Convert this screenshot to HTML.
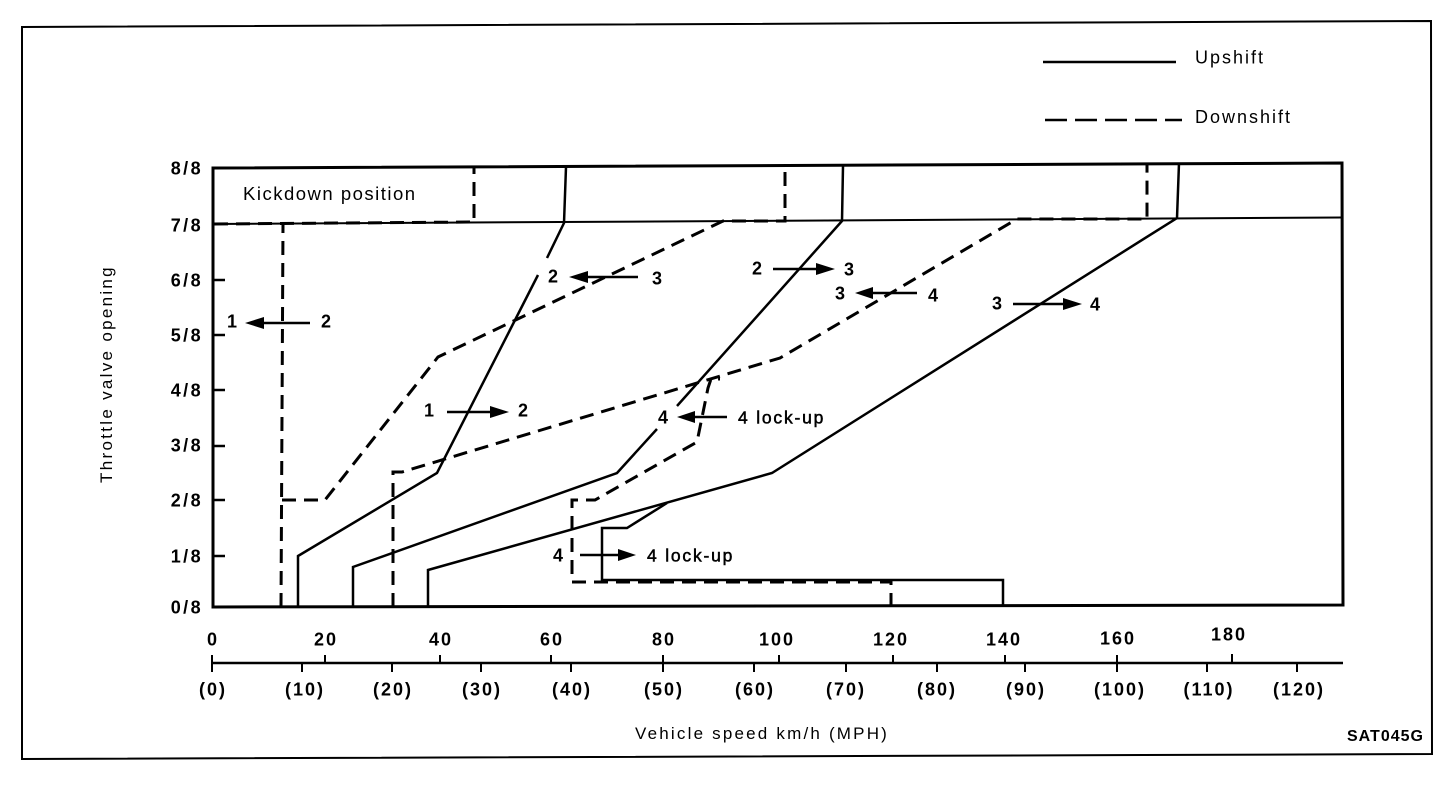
<!DOCTYPE html>
<html><head><meta charset="utf-8"><style>
html,body{margin:0;padding:0;background:#fff;}
svg{display:block}
text{font-family:"Liberation Sans",Arial,sans-serif;fill:#000}
.ax{font-weight:bold;font-size:18px;letter-spacing:2px}
.yl{font-weight:bold;font-size:18px;letter-spacing:2.4px}
.lb{font-size:18px;letter-spacing:2px}
.dg{font-size:18px;font-weight:bold}
.s{fill:none;stroke:#000;stroke-width:2.5;stroke-linejoin:miter}
.d{fill:none;stroke:#000;stroke-width:3;stroke-dasharray:14 8}
</style></head><body>
<svg width="1456" height="796" viewBox="0 0 1456 796" xmlns="http://www.w3.org/2000/svg">
<rect width="1456" height="796" fill="#fff"/>
<!-- outer frame -->
<polygon points="22,27 1431,21 1432,754 22,759" fill="none" stroke="#000" stroke-width="2"/>

<!-- legend -->
<line x1="1043" y1="62" x2="1176" y2="62" stroke="#000" stroke-width="2.5"/>
<text x="1195" y="63.5" class="lb">Upshift</text>
<line x1="1045" y1="120" x2="1182" y2="120" stroke="#000" stroke-width="2.5" stroke-dasharray="22 8"/>
<text x="1195" y="123" class="lb">Downshift</text>

<!-- plot box -->
<polygon points="213,168 1342,163 1343,605 213,607" fill="none" stroke="#000" stroke-width="3"/>
<line x1="213" y1="224" x2="1342" y2="217.5" stroke="#000" stroke-width="2"/>

<!-- left ticks -->
<g stroke="#000" stroke-width="2.5">
<line x1="213" y1="280" x2="225" y2="280"/>
<line x1="213" y1="335" x2="225" y2="335"/>
<line x1="213" y1="390" x2="225" y2="390"/>
<line x1="213" y1="446" x2="225" y2="446"/>
<line x1="213" y1="500" x2="225" y2="500"/>
<line x1="213" y1="556" x2="225" y2="556"/>
</g>

<!-- y labels -->
<g class="yl" text-anchor="end">
<text x="203" y="174.5">8/8</text>
<text x="203" y="231.5">7/8</text>
<text x="203" y="286.5">6/8</text>
<text x="203" y="341.5">5/8</text>
<text x="203" y="396.5">4/8</text>
<text x="203" y="451.5">3/8</text>
<text x="203" y="506.5">2/8</text>
<text x="203" y="562.5">1/8</text>
<text x="203" y="613.5">0/8</text>
</g>

<text transform="translate(112,374) rotate(-90)" text-anchor="middle" style="font-size:17px;letter-spacing:2.3px">Throttle valve opening</text>

<text x="243" y="200" style="font-size:18.5px;letter-spacing:1.5px">Kickdown position</text>

<!-- upshift lines -->
<polyline class="s" points="298,607 298,556 437,473 538,275"/>
<polyline class="s" points="547,258 564,223 566,167"/>
<polyline class="s" points="353,607 353,567 617,473 657,429"/>
<polyline class="s" points="677,406 842,221 843,166"/>
<polyline class="s" points="428,607 428,570 772,473 1177,218 1179,163"/>
<polyline class="s" points="1003,606 1003,580 602,580 602,528 627,528 667,503"/>

<!-- downshift lines -->
<polyline class="d" points="281,607 283,224"/>
<polyline class="d" points="214,224 474,222 474,168"/>
<polyline class="d" points="282,500 325,500 438,357 723,221 785,221 785,167"/>
<polyline class="d" points="393,607 393,472 402,472 780,358 1017,219 1147,219 1147,164"/>
<polyline class="d" points="891,607 891,582 572,582 572,500 595,500 697,442 708,388 711,379 720,379"/>

<!-- arrows -->
<g stroke="#000" stroke-width="2.5">
<line x1="262" y1="323" x2="310" y2="323"/>
<line x1="447" y1="412" x2="492" y2="412"/>
<line x1="586" y1="277" x2="638" y2="277"/>
<line x1="773" y1="269" x2="818" y2="269"/>
<line x1="871" y1="293" x2="917" y2="293"/>
<line x1="1013" y1="304" x2="1066" y2="304"/>
<line x1="693" y1="417" x2="727" y2="417"/>
<line x1="580" y1="555" x2="620" y2="555"/>
</g>
<g fill="#000">
<polygon points="245,323 264,317 264,329"/>
<polygon points="509,412 490,406 490,418"/>
<polygon points="569,277 588,271 588,283"/>
<polygon points="835,269 816,263 816,275"/>
<polygon points="855,293 873,287 873,299"/>
<polygon points="1082,304 1063,298 1063,310"/>
<polygon points="677,417 695,411 695,423"/>
<polygon points="636,555 618,549 618,561"/>
</g>

<!-- in-plot labels -->
<g class="dg" text-anchor="middle">
<text x="232" y="327.5">1</text>
<text x="326" y="327.5">2</text>
<text x="429" y="416.5">1</text>
<text x="523" y="416.5">2</text>
<text x="553" y="282.5">2</text>
<text x="657" y="284.5">3</text>
<text x="757" y="274.5">2</text>
<text x="849" y="275.5">3</text>
<text x="840" y="299.5">3</text>
<text x="933" y="301.5">4</text>
<text x="997" y="309.5">3</text>
<text x="1095" y="310.5">4</text>
<text x="663" y="423.5">4</text>
<text x="558" y="561.5">4</text>
</g>
<text x="738" y="423.5" style="font-size:17.5px;letter-spacing:1.8px;stroke:#000;stroke-width:0.5">4 lock-up</text>
<text x="647" y="561.5" style="font-size:17.5px;letter-spacing:1.8px;stroke:#000;stroke-width:0.5">4 lock-up</text>

<!-- x axis -->
<line x1="212" y1="663" x2="1343" y2="663" stroke="#000" stroke-width="2.5"/>
<g stroke="#000" stroke-width="2">
<line x1="212" y1="655" x2="212" y2="663"/>
<line x1="325" y1="655" x2="325" y2="663"/>
<line x1="440" y1="655" x2="440" y2="663"/>
<line x1="551" y1="655" x2="551" y2="663"/>
<line x1="663" y1="655" x2="663" y2="663"/>
<line x1="779" y1="655" x2="779" y2="663"/>
<line x1="893" y1="655" x2="893" y2="663"/>
<line x1="1005" y1="655" x2="1005" y2="663"/>
<line x1="1117" y1="655" x2="1117" y2="663"/>
<line x1="1232" y1="654" x2="1232" y2="663"/>

<line x1="212" y1="663" x2="212" y2="672"/>
<line x1="302" y1="663" x2="302" y2="672"/>
<line x1="392" y1="663" x2="392" y2="672"/>
<line x1="481" y1="663" x2="481" y2="672"/>
<line x1="571" y1="663" x2="571" y2="672"/>
<line x1="663" y1="663" x2="663" y2="672"/>
<line x1="754" y1="663" x2="754" y2="672"/>
<line x1="846" y1="663" x2="846" y2="672"/>
<line x1="937" y1="663" x2="937" y2="672"/>
<line x1="1025" y1="663" x2="1025" y2="672"/>
<line x1="1117" y1="663" x2="1117" y2="672"/>
<line x1="1207" y1="663" x2="1207" y2="672"/>
<line x1="1297" y1="663" x2="1297" y2="672"/>
</g>

<g class="ax" text-anchor="middle">
<text x="213" y="645.5">0</text>
<text x="326" y="645.5">20</text>
<text x="441" y="645.5">40</text>
<text x="552" y="645.5">60</text>
<text x="664" y="645.5">80</text>
<text x="777" y="645.5">100</text>
<text x="891" y="645.5">120</text>
<text x="1004" y="645.5">140</text>
<text x="1118" y="644.5">160</text>
<text x="1229" y="640.5">180</text>

<text x="213" y="695.5">(0)</text>
<text x="305" y="695.5">(10)</text>
<text x="393" y="695.5">(20)</text>
<text x="482" y="695.5">(30)</text>
<text x="572" y="695.5">(40)</text>
<text x="664" y="695.5">(50)</text>
<text x="755" y="695.5">(60)</text>
<text x="846" y="695.5">(70)</text>
<text x="937" y="695.5">(80)</text>
<text x="1026" y="695.5">(90)</text>
<text x="1120" y="695.5">(100)</text>
<text x="1209" y="695.5">(110)</text>
<text x="1299" y="695.5">(120)</text>
</g>

<text x="635" y="739" style="font-size:17px;letter-spacing:2.2px">Vehicle speed km/h (MPH)</text>
<text x="1347" y="741" style="font-size:16px;font-weight:bold;letter-spacing:1px">SAT045G</text>
</svg>
</body></html>
